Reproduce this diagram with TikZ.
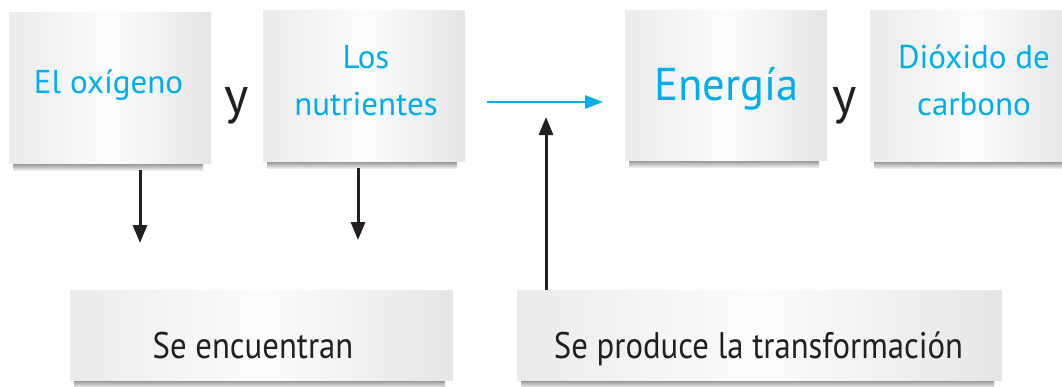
\documentclass[tikz,border=0pt]{standalone}
\usepackage{fontspec}
\setmainfont{PT Sans}
\newfontfamily\condfont{PT Sans}[FakeStretch=0.885]
\newfontfamily\enefont{PT Sans}[FakeStretch=0.97]
\usetikzlibrary{arrows.meta,calc}
\definecolor{cyanb}{RGB}{0,174,239}
\definecolor{txt}{RGB}{35,31,32}
\tikzset{
  card/.style={inner sep=0pt, left color=black!8, right color=black!10, middle color=black!1},
  bluetxt/.style={text=cyanb, font=\fontsize{33}{47}\selectfont, inner sep=0pt, anchor=base, align=center},
  greytxt/.style={text=txt, font=\condfont\fontsize{37}{44}\selectfont, inner sep=0pt, anchor=base},
  conj/.style={text=txt, font=\fontsize{52}{60}\selectfont, inner sep=0pt, anchor=base},
  blackarrow/.style={draw=txt, line width=3pt, -{Triangle[length=18pt,width=14pt]}},
  bluearrow/.style={draw=cyanb, line width=2.8pt, -{Triangle[length=18pt,width=13pt]}},
}
\begin{document}
\begin{tikzpicture}[x=1pt,y=-1pt]
\useasboundingbox (0,0) rectangle (1062,386);
% shadows
\foreach \l/\r/\b in {9/211/163, 263/465/161, 625/827/160, 870/1070/161, 70/453/380, 517/1002/380}{
  \shade[top color=black!45, bottom color=black!8] (\l+4,\b) rectangle (\r-8,\b+7);
}
\node[card, minimum width=202pt, minimum height=151pt] (oxi) at (110,87.5) {};
\node[bluetxt] (oxit) at (108.5,93) {El oxígeno};
\node[card, minimum width=202pt, minimum height=151pt] (nut) at (364,85.5) {};
\node[bluetxt] (nutt) at (366,115) {Los\\nutrientes};
\node[card, minimum width=202pt, minimum height=150pt] (ene) at (726,85) {};
\node[text=cyanb, font=\enefont\fontsize{46}{50}\selectfont, inner sep=0pt, anchor=base] (enet) at (726.5,100) {Energía};
\node[card, minimum width=200pt, minimum height=151pt] (dio) at (970,85.5) {};
\node[bluetxt] (diot) at (974,115) {Dióxido de\\carbono};
\node[card, minimum width=383pt, minimum height=90pt] (enc) at (261.5,335) {};
\node[greytxt] (enct) at (253,358) {Se encuentran};
\node[card, minimum width=485pt, minimum height=90pt] (pro) at (759.5,335) {};
\node[greytxt] (prot) at (758.5,358) {Se produce la transformación};
\node[conj] (y1) at (237,113) {y};
\node[conj] (y2) at (845,113) {y};
% connectors
\coordinate (a1s) at (140,170);
\coordinate (a1e) at (140,243);
\coordinate (a2s) at (358,168);
\coordinate (a2e) at (358,240);
\coordinate (bs) at (487,102);
\coordinate (be) at (603,102);
\coordinate (ue) at (546,117);
\draw[blackarrow] (a1s) -- (a1e);
\draw[blackarrow] (a2s) -- (a2e);
\draw[bluearrow] (bs) -- (be);
\draw[blackarrow] (pro.north -| ue) -- (ue);
\end{tikzpicture}
\end{document}
